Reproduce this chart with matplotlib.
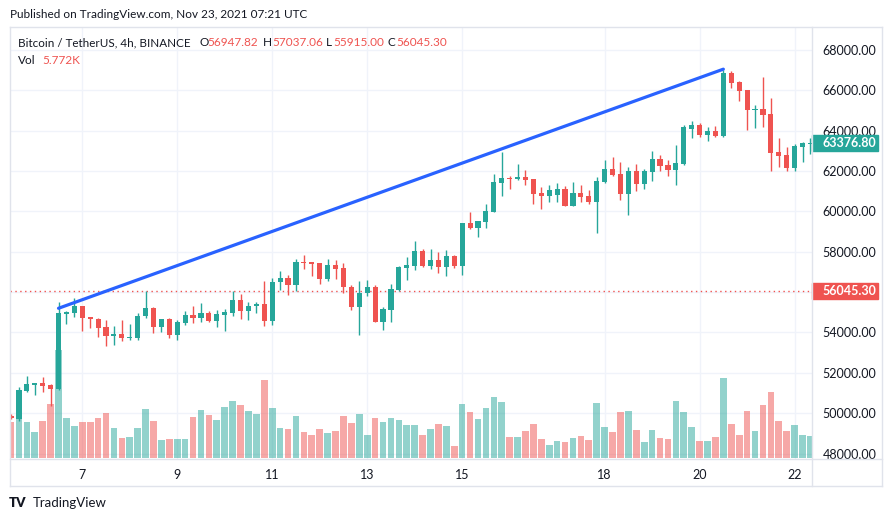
import matplotlib.pyplot as plt
import matplotlib.transforms as mtransforms
from matplotlib.patches import Rectangle

plt.rcParams['font.family'] = ['Lato', 'DejaVu Sans']

# 4h candles
opens = [49880, 49690, 51076, 51390, 51474, 51375, 51176, 54913, 54962, 55295,
         54750, 54685, 54253, 53820, 53905, 53707, 53740, 54798, 55212, 54270,
         54650, 53870, 54467, 54883, 54700, 54947, 54565, 54883, 54962, 55627,
         55062, 55330, 55394, 54565, 56486, 56720, 56337, 57510, 57478, 57428,
         56650, 57330, 57180, 56238, 55260, 55940, 56238, 54516, 55113, 56105,
         57200, 57297, 58025, 57280, 57578, 57246, 57776, 57296, 59414, 59181,
         59480, 59990, 61416, 61633, 61600, 61700, 61600, 60900, 60770, 60800,
         61100, 60273, 60900, 60750, 60471, 61465, 62094, 61850, 60868, 61995,
         61365, 61960, 62590, 62290, 62044, 62342, 64100, 64278, 63796, 63980,
         63732, 66858, 66400, 66015, 65037, 65070, 64823, 62950, 62800, 62158,
         63200, 63330]
highs = [49950, 51320, 51820, 51500, 51770, 51424, 55493, 55050, 55692, 55320,
         54760, 54714, 54635, 54302, 54600, 54400, 54962, 56054, 55262, 54680,
         54714, 54635, 55050, 55295, 55459, 55060, 55130, 55180, 56054, 55890,
         55510, 55510, 56535, 56720, 57032, 56833, 57627, 57826, 57500, 57450,
         57627, 57578, 57428, 56337, 56535, 56585, 56337, 55245, 56387, 57280,
         57727, 58521, 58124, 58124, 57975, 58074, 57826, 59430, 59960, 59530,
         60357, 61846, 62938, 61732, 62342, 62044, 61620, 61200, 61300, 61400,
         61250, 61450, 61300, 61050, 61697, 62541, 62690, 62441, 62194, 62342,
         62080, 62987, 62789, 62541, 63285, 64278, 64476, 64377, 64178, 64228,
         67007, 66958, 66460, 66030, 65270, 66660, 65617, 63647, 63200, 63350,
         63420, 63647]
lows = [49700, 49590, 51027, 50890, 51027, 50333, 51150, 54400, 54764, 54070,
        54218, 53771, 53325, 53374, 53573, 53642, 53607, 54714, 53970, 54020,
        53722, 53607, 54367, 54467, 54516, 54540, 54270, 54070, 54814, 54665,
        54600, 54962, 54317, 54367, 56090, 55875, 56054, 57131, 56784, 56402,
        56550, 56650, 55975, 55113, 53871, 55810, 54500, 54118, 54516, 56054,
        56600, 57082, 57260, 57146, 56948, 56800, 57197, 56848, 59131, 58734,
        59181, 59960, 60769, 61118, 61548, 61315, 60372, 60124, 60471, 60471,
        60250, 60250, 60471, 60374, 58932, 61415, 61760, 60570, 59826, 61017,
        61100, 61514, 62010, 61762, 61315, 62300, 63618, 63697, 63498, 63697,
        63700, 66130, 65484, 64030, 64144, 64194, 62010, 62209, 62010, 62010,
        62457, 62854]
closes = [49740, 51130, 51424, 51490, 51325, 51176, 54962, 55013, 55295, 54714,
          54650, 54218, 53820, 53905, 53707, 53740, 54798, 55195, 54270, 54650,
          53870, 54500, 54883, 54700, 54947, 54565, 54898, 55013, 55627, 55062,
          55330, 55430, 54565, 56486, 56720, 56337, 57478, 57444, 57395, 56650,
          57330, 57146, 56238, 55260, 55940, 56238, 54516, 55146, 56139, 57230,
          57330, 58025, 57280, 57578, 57246, 57776, 57296, 59414, 59181, 59513,
          60010, 61449, 61633, 61600, 61700, 61563, 60868, 60770, 61050, 61100,
          60273, 60900, 60720, 60471, 61500, 62094, 61810, 60868, 61995, 61365,
          61995, 62590, 62258, 62044, 62392, 64178, 64278, 63796, 63980, 63732,
          66858, 66377, 65980, 65037, 65087, 64790, 62903, 62754, 62158, 63250,
          63400, 63376.80]
# volume in thousands
volumes = [4.95, 5.36, 4.95, 3.57, 5.08, 7.42, 14.84, 5.50, 4.40, 4.95,
           4.95, 5.50, 6.18, 4.12, 2.75, 2.89, 4.12, 6.73, 5.08, 2.47,
           2.61, 2.61, 2.61, 5.63, 6.60, 5.91, 5.22, 7.01, 7.83, 7.28,
           6.46, 6.05, 10.72, 6.87, 4.12, 3.98, 5.77, 3.57, 3.16, 3.98,
           3.44, 3.71, 5.77, 4.81, 6.05, 3.16, 5.50, 4.95, 5.50, 5.22,
           4.53, 4.53, 3.16, 3.98, 4.67, 4.40, 1.65, 7.42, 6.32, 5.36,
           6.87, 8.38, 7.69, 2.89, 2.89, 3.71, 4.67, 2.61, 1.79, 2.34,
           2.20, 2.75, 3.02, 2.47, 7.56, 4.26, 3.57, 6.32, 6.46, 3.85,
           2.20, 3.85, 2.75, 2.61, 7.83, 6.32, 4.26, 2.34, 2.34, 2.89,
           10.99, 4.67, 3.16, 6.46, 3.71, 7.28, 9.07, 5.08, 3.71, 4.53,
           3.16, 3.02]

day_ticks = [9, 21, 33, 45, 57, 75, 87, 99]
day_labels = ['7', '9', '11', '13', '15', '18', '20', '22']
price_ticks = list(range(48000, 68001, 2000))

trend_x = [6, 90]
trend_y = [55200, 67050]

last_price = 56045.30
header_ohlc = [('O', '56947.82'), ('H', '57037.06'), ('L', '55915.00'), ('C', '56045.30')]
header_vol = '5.772K'

UP = '#26a69a'
DOWN = '#ef5350'
TXT = '#131722'
GRID = '#f0f3fa'
FRAME = '#e0e3eb'

W, H = 892, 521
fig = plt.figure(figsize=(W / 100, H / 100), dpi=100)


def rect(x0, y0, x1, y1):
    return [x0 / W, 1 - y1 / H, (x1 - x0) / W, (y1 - y0) / H]


vax = fig.add_axes(rect(10, 27, 812, 459))
pax = vax.twinx()
for a in (vax, pax):
    for s in a.spines.values():
        s.set_visible(False)

n = len(closes)
xs = list(range(n))
up = [c >= o for o, c in zip(opens, closes)]
ccol = [UP if u else DOWN for u in up]
vcol = [(0.149, 0.651, 0.604, 0.5) if u else (0.937, 0.325, 0.314, 0.5) for u in up]

# grid + volume on the bottom axes
ytrans = mtransforms.blended_transform_factory(vax.transAxes, pax.transData)
vax.hlines(price_ticks, 0, 1, transform=ytrans, color=GRID, lw=1, zorder=0)
vax.vlines(day_ticks, 0, 1, transform=vax.get_xaxis_transform(), color=GRID, lw=1, zorder=0)
vax.bar(xs, volumes, width=0.84, color=vcol, zorder=1)
vax.set_xlim(-0.13, 101.2)
vax.set_ylim(-0.14, 59.2)
vax.yaxis.set_visible(False)
vax.set_xticks(day_ticks, day_labels)
vax.tick_params(axis='x', length=0, pad=7, labelsize=9, labelcolor=TXT)

# candles
pax.vlines(xs, lows, highs, colors=ccol, lw=1, zorder=2)
pax.bar(xs, [max(abs(c - o), 45) for o, c in zip(opens, closes)],
        bottom=[min(o, c) for o, c in zip(opens, closes)],
        width=0.65, color=ccol, zorder=3)
pax.plot(trend_x, trend_y, color='#2962ff', lw=2.3, solid_capstyle='round', zorder=4)
pax.axhline(last_price, color=DOWN, lw=1, ls=(0, (1, 2.5)), zorder=1)
pax.set_ylim(47730, 69140)
# the 56000 label sits under the last-price box, so leave it blank
pax.set_yticks(price_ticks, ['' if abs(p - last_price) < 500 else f'{p:.2f}' for p in price_ticks])
pax.tick_params(axis='y', length=0, pad=7.5, labelsize=9, labelcolor=TXT)

# price labels on the scale
lo, hi = pax.get_ylim()
per_px = (hi - lo) / 432
ptrans = mtransforms.blended_transform_factory(pax.transAxes, pax.transData)
off = mtransforms.ScaledTranslation(10 / 100, 0, fig.dpi_scale_trans)
for val, col in [(closes[-1], UP), (last_price, DOWN)]:
    pax.add_patch(Rectangle((1.0, val - 8 * per_px), 66 / 802, 16 * per_px,
                            transform=ptrans, color=col, clip_on=False, zorder=6))
    pax.text(1.0, val, f'{val:.2f}', transform=ptrans + off, ha='left', va='center',
             color='white', fontsize=9, fontweight='bold', clip_on=False, zorder=7)

# frame, header and footer
ov = fig.add_axes([0, 0, 1, 1], zorder=10)
ov.set_xlim(0, W)
ov.set_ylim(H, 0)
ov.axis('off')
for x0, y0, x1, y1 in [(10, 26.5, 882, 26.5), (10, 486, 882, 486), (10, 26.5, 10, 486),
                       (882, 26.5, 882, 486), (812, 26.5, 812, 486), (10, 459, 882, 459)]:
    ov.plot([x0, x1], [y0, y1], color=FRAME, lw=1)

ov.text(10, 14, 'Published on TradingView.com, Nov 23, 2021 07:21 UTC',
        va='center', fontsize=8.5, color=TXT)
ov.text(18, 43, 'Bitcoin / TetherUS, 4h, BINANCE', va='center', fontsize=8.4, color=TXT)
for (k, v), xk, xv in zip(header_ohlc, [199, 263, 326, 388], [207, 272, 333, 396]):
    ov.text(xk, 43, k, va='center', fontsize=8.5, color=TXT)
    ov.text(xv, 43, v, va='center', fontsize=8.5, color=DOWN)
ov.text(18, 60, 'Vol', va='center', fontsize=8.5, color=TXT)
ov.text(42, 60, header_vol, va='center', fontsize=8.5, color=DOWN)

ov.text(9, 503, 'TV', va='center', fontsize=9.5, fontweight='heavy', color=TXT)
ov.text(33, 503, 'TradingView', va='center', fontsize=9.5, color=TXT)

fig.savefig('out.png', dpi=100)
